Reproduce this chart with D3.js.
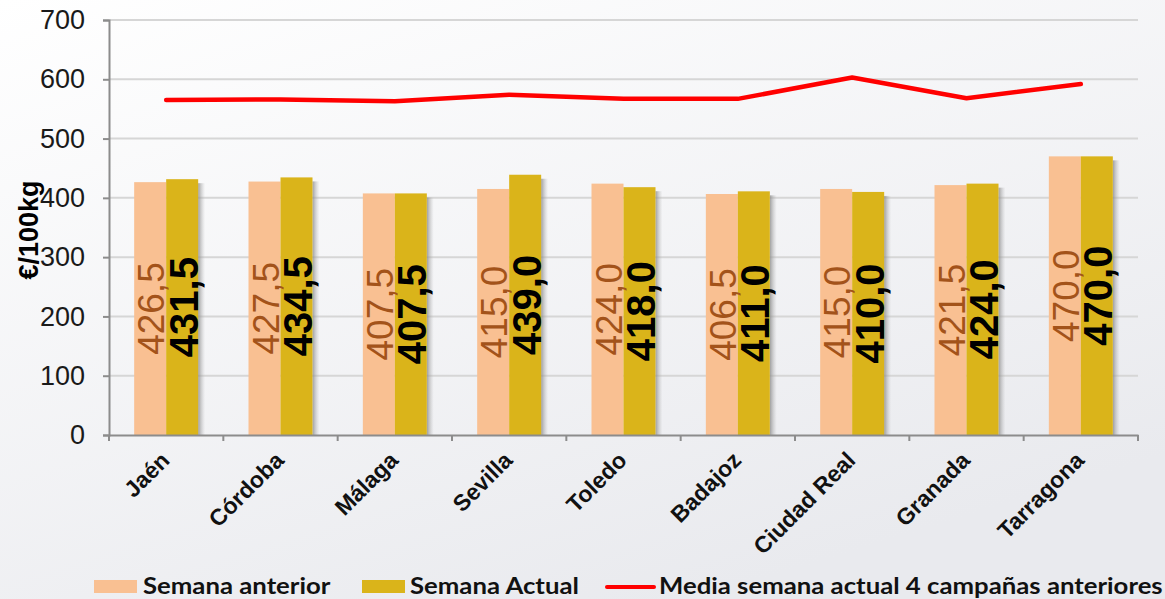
<!DOCTYPE html>
<html>
<head>
<meta charset="utf-8">
<script src="https://cdn.jsdelivr.net/npm/d3@7"></script>
<style>
	body { margin: 0; background: #ffffff; }
	svg { display: block; }
</style>
</head>
<body>
<script>
// provincias
var provincias = ["Jaén", "Córdoba", "Málaga", "Sevilla", "Toledo", "Badajoz", "Ciudad Real", "Granada", "Tarragona"];
var semanaAnterior = [426.5, 427.5, 407.5, 415.0, 424.0, 406.5, 415.0, 421.5, 470.0];
var semanaActual = [431.5, 434.5, 407.5, 439.0, 418.0, 411.0, 410.0, 424.0, 470.0];
var mediaCampanas = [565, 566, 563, 574, 567, 567, 603, 568, 592];
var yTicks = [0, 100, 200, 300, 400, 500, 600, 700];
var leyenda = ["Semana anterior", "Semana Actual", "Media semana actual 4 campañas anteriores"];

var width = 1165, height = 599;
var margin = {top: 20, right: 27, bottom: 164, left: 109};

var svg = d3.select("body").append("svg").attr("width", width).attr("height", height);
var defs = svg.append("defs");

var bg = defs.append("linearGradient").attr("id", "bg")
	.attr("x1", "0").attr("y1", "0").attr("x2", "0.6").attr("y2", "1");
bg.append("stop").attr("offset", "0").attr("stop-color", "#ffffff");
bg.append("stop").attr("offset", "1").attr("stop-color", "#e9eaee");

var sh = defs.append("linearGradient").attr("id", "shadow");
sh.append("stop").attr("offset", "0").attr("stop-color", "#8a8a8a").attr("stop-opacity", 0.8);
sh.append("stop").attr("offset", "1").attr("stop-color", "#bbbbbb").attr("stop-opacity", 0);

svg.append("rect").attr("width", width).attr("height", height).attr("fill", "url(#bg)");

var x = d3.scaleBand()
	.domain(provincias)
	.range([margin.left, width - margin.right]);

var y = d3.scaleLinear()
	.domain([0, 700])
	.range([height - margin.bottom, margin.top]);

var barW = 32;

// grid
svg.append("g").selectAll("line")
	.data(yTicks.filter(function(d) { return d > 0; }))
	.enter().append("line")
	.attr("x1", margin.left).attr("x2", width - margin.right)
	.attr("y1", function(d) { return y(d); }).attr("y2", function(d) { return y(d); })
	.attr("stroke", "#d6d6d6").attr("stroke-width", 2);

// sombras
svg.append("g").selectAll("rect")
	.data(semanaActual)
	.enter().append("rect")
	.attr("x", function(d, i) { return x(provincias[i]) + x.bandwidth() / 2 + barW; })
	.attr("y", function(d) { return y(d) + 4; })
	.attr("width", 7)
	.attr("height", function(d) { return y(0) - y(d) - 4; })
	.attr("fill", "url(#shadow)");

svg.append("g").selectAll("rect")
	.data(semanaAnterior)
	.enter().append("rect")
	.attr("x", function(d, i) { return x(provincias[i]) + x.bandwidth() / 2 - barW; })
	.attr("y", function(d) { return y(d); })
	.attr("width", barW)
	.attr("height", function(d) { return y(0) - y(d); })
	.attr("fill", "#f9c092");

svg.append("g").selectAll("rect")
	.data(semanaActual)
	.enter().append("rect")
	.attr("x", function(d, i) { return x(provincias[i]) + x.bandwidth() / 2; })
	.attr("y", function(d) { return y(d); })
	.attr("width", barW)
	.attr("height", function(d) { return y(0) - y(d); })
	.attr("fill", "#dab41a");

function fmt(v) { return v.toFixed(1).replace(".", ","); }

// etiquetas
svg.append("g").selectAll("text")
	.data(semanaAnterior)
	.enter().append("text")
	.attr("transform", function(d, i) {
		var cx = x(provincias[i]) + x.bandwidth() / 2 - barW / 2;
		return "translate(" + (cx + 1) + "," + (y(d) + y(0)) / 2 + ") rotate(-90)";
	})
	.attr("text-anchor", "middle")
	.attr("dy", "0.36em")
	.attr("font-family", "Liberation Sans, Arial, sans-serif")
	.attr("font-size", 37)
	.attr("fill", "#a3531a")
	.text(function(d) { return fmt(d); });

svg.append("g").selectAll("text")
	.data(semanaActual)
	.enter().append("text")
	.attr("transform", function(d, i) {
		var cx = x(provincias[i]) + x.bandwidth() / 2 + barW / 2;
		return "translate(" + (cx + 1) + "," + (y(d) + y(0)) / 2 + ") rotate(-90)";
	})
	.attr("text-anchor", "middle")
	.attr("dy", "0.36em")
	.attr("font-family", "Liberation Sans, Arial, sans-serif")
	.attr("font-size", 40)
	.attr("font-weight", "bold")
	.attr("fill", "#000000")
	.text(function(d) { return fmt(d); });

// linea media
var line = d3.line()
	.x(function(d, i) { return x(provincias[i]) + x.bandwidth() / 2; })
	.y(function(d) { return y(d); });

svg.append("path")
	.datum(mediaCampanas)
	.attr("d", line)
	.attr("fill", "none")
	.attr("stroke", "#ff0000")
	.attr("stroke-width", 4.5)
	.attr("stroke-linecap", "round")
	.attr("stroke-linejoin", "round");

// ejes
var yAxis = svg.append("g")
	.attr("transform", "translate(" + margin.left + ",0)")
	.call(d3.axisLeft(y).tickValues(yTicks).tickSize(6).tickPadding(18));
yAxis.select(".domain").attr("stroke", "#8c8c8c").attr("stroke-width", 2);
yAxis.selectAll(".tick line").attr("stroke", "#8c8c8c").attr("stroke-width", 2);
yAxis.selectAll("text")
	.attr("font-family", "Liberation Sans, Arial, sans-serif")
	.attr("font-size", 27)
	.attr("fill", "#1a1a1a");

var xAxis = svg.append("g")
	.attr("transform", "translate(0," + y(0) + ")")
	.call(d3.axisBottom(x).tickSize(0).tickFormat(""));
xAxis.select(".domain").attr("stroke", "#8c8c8c").attr("stroke-width", 2);

svg.append("g").selectAll("line")
	.data(d3.range(provincias.length + 1))
	.enter().append("line")
	.attr("x1", function(i) { return margin.left + i * x.step(); })
	.attr("x2", function(i) { return margin.left + i * x.step(); })
	.attr("y1", y(0)).attr("y2", y(0) + 6)
	.attr("stroke", "#8c8c8c").attr("stroke-width", 2);

svg.append("g").selectAll("text")
	.data(provincias)
	.enter().append("text")
	.attr("transform", function(d) {
		var cx = x(d) + x.bandwidth() / 2;
		return "translate(" + (cx - 7) + "," + (y(0) + 15) + ") rotate(-45)";
	})
	.attr("text-anchor", "end")
	.attr("dy", "0.72em")
	.attr("font-family", "Liberation Sans, Arial, sans-serif")
	.attr("font-size", 23)
	.attr("font-weight", "bold")
	.attr("fill", "#111")
	.text(function(d) { return d; });

svg.append("text")
	.attr("transform", "translate(29," + 230 + ") rotate(-90)")
	.attr("text-anchor", "middle")
	.attr("dy", "0.35em")
	.attr("font-family", "Liberation Sans, Arial, sans-serif")
	.attr("font-size", 27)
	.attr("font-weight", "bold")
	.text("€/100kg");

// leyenda
var ly = 586;
var leg = svg.append("g")
	.attr("font-family", "Lato, sans-serif")
	.attr("font-size", 22)
	.attr("font-weight", "bold")
	.attr("fill", "#111");

function legText(px, s) {
	leg.append("text")
		.attr("transform", "translate(" + px + "," + ly + ") scale(1.17,1)")
		.attr("dy", "0.36em")
		.text(s);
}

leg.append("rect").attr("x", 94).attr("y", ly - 6).attr("width", 43).attr("height", 13).attr("fill", "#f9c092");
legText(143, leyenda[0]);
leg.append("rect").attr("x", 362).attr("y", ly - 6).attr("width", 43).attr("height", 13).attr("fill", "#dab41a");
legText(410, leyenda[1]);
leg.append("line").attr("x1", 607).attr("x2", 654).attr("y1", ly + 1).attr("y2", ly + 1)
	.attr("stroke", "#ff0000").attr("stroke-width", 4).attr("stroke-linecap", "round");
legText(659, leyenda[2]);
</script>
</body>
</html>
